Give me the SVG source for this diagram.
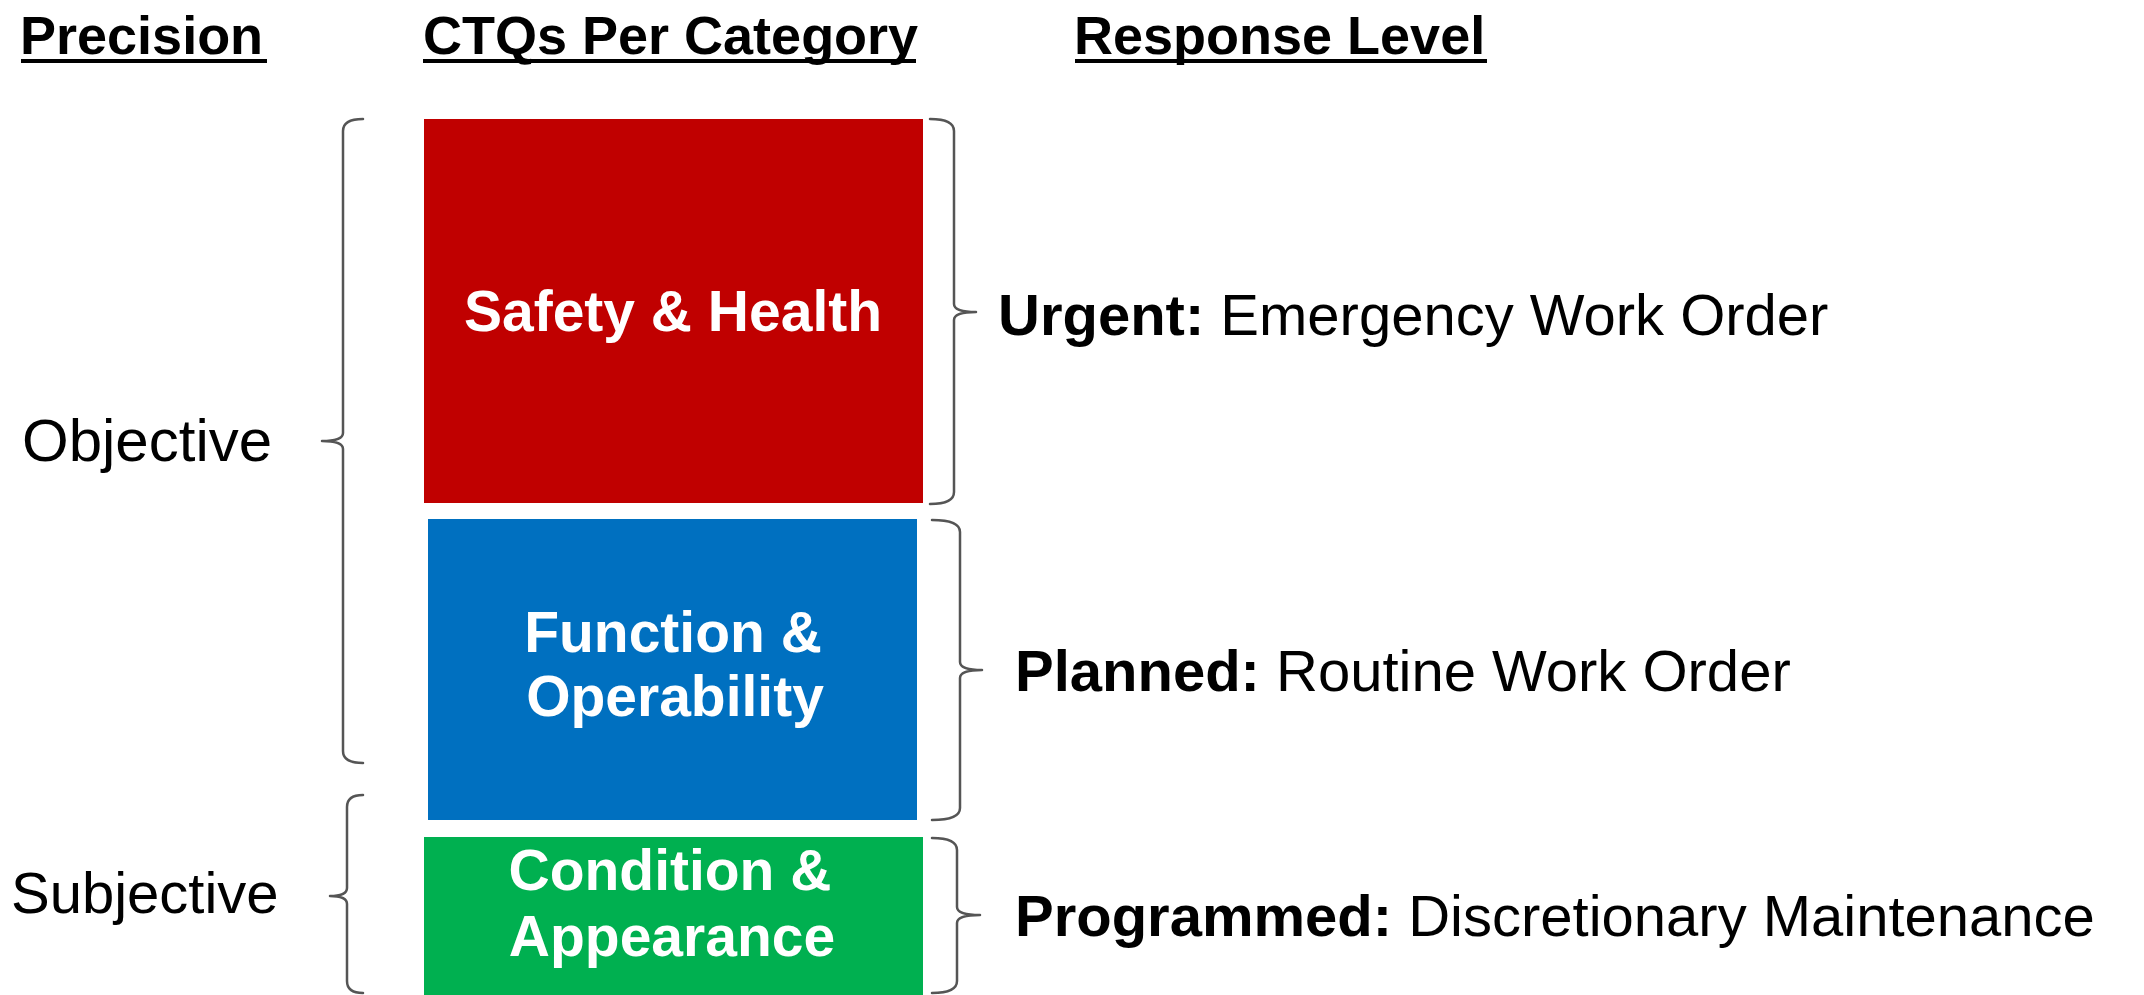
<svg xmlns="http://www.w3.org/2000/svg" width="2144" height="995" viewBox="0 0 2144 995">
  <style>
    .hdr { font-family: "Liberation Sans", Arial, sans-serif; font-weight: bold; font-size: 54px; fill: #000; }
    .lbl { font-family: "Liberation Sans", Arial, sans-serif; font-size: 58px; fill: #000; }
    .box { font-family: "Liberation Sans", Arial, sans-serif; font-weight: bold; font-size: 57px; fill: #fff; text-anchor: middle; }
    .b { font-weight: bold; }
    .brace { fill: none; stroke: #555; stroke-width: 2.5; stroke-linecap: round; stroke-linejoin: round; }
  </style>
  <rect width="2144" height="995" fill="#fff"/>

  <g id="headers">
    <text class="hdr" x="20" y="54">Precision</text>
    <rect x="21" y="59" width="246" height="4" fill="#000"/>
    <text class="hdr" x="423" y="54">CTQs Per Category</text>
    <rect x="423" y="59" width="493" height="4" fill="#000"/>
    <text class="hdr" x="1074" y="54">Response Level</text>
    <rect x="1075" y="59" width="412" height="4" fill="#000"/>
  </g>

  <g id="objective">
    <text class="lbl" x="22" y="461" style="font-size:60px">Objective</text>
  </g>
  <g id="subjective">
    <text class="lbl" x="11" y="913">Subjective</text>
  </g>

  <g id="safety-health">
    <rect x="424" y="119" width="499" height="384" fill="#C00000"/>
    <text class="box" x="673" y="331">Safety &amp; Health</text>
  </g>
  <g id="function-operability">
    <rect x="428" y="519" width="489" height="301" fill="#0070C0"/>
    <text class="box" x="673" y="652">Function &amp;</text>
    <text class="box" x="675" y="716">Operability</text>
  </g>
  <g id="condition-appearance">
    <rect x="424" y="837" width="499" height="158" fill="#00B050"/>
    <text class="box" x="670" y="890">Condition &amp;</text>
    <text class="box" x="672" y="956">Appearance</text>
  </g>

  <g id="urgent">
    <text class="lbl" x="998" y="335"><tspan class="b">Urgent:</tspan> Emergency Work Order</text>
  </g>
  <g id="planned">
    <text class="lbl" x="1015" y="691"><tspan class="b">Planned:</tspan> Routine Work Order</text>
  </g>
  <g id="programmed">
    <text class="lbl" x="1015" y="936"><tspan class="b">Programmed:</tspan> Discretionary Maintenance</text>
  </g>

  <g id="connectors">
    <path class="brace" d="M363,119 Q343,119 343,131 L343,433 Q343,441 322,441 Q343,441 343,449 L343,751 Q343,763 363,763"/>
    <path class="brace" d="M363,795 Q347,795 347,807 L347,888 Q347,896 330,896 Q347,896 347,904 L347,981 Q347,993 363,993"/>
    <path class="brace" d="M930,119 Q954,119 954,131 L954,304 Q954,312 976,312 Q954,312 954,320 L954,492 Q954,504 930,504"/>
    <path class="brace" d="M932,520 Q960,520 960,532 L960,662 Q960,670 982,670 Q960,670 960,678 L960,808 Q960,820 932,820"/>
    <path class="brace" d="M932,838 Q957,838 957,850 L957,907 Q957,915 980,915 Q957,915 957,923 L957,981 Q957,993 932,993"/>
  </g>
</svg>
